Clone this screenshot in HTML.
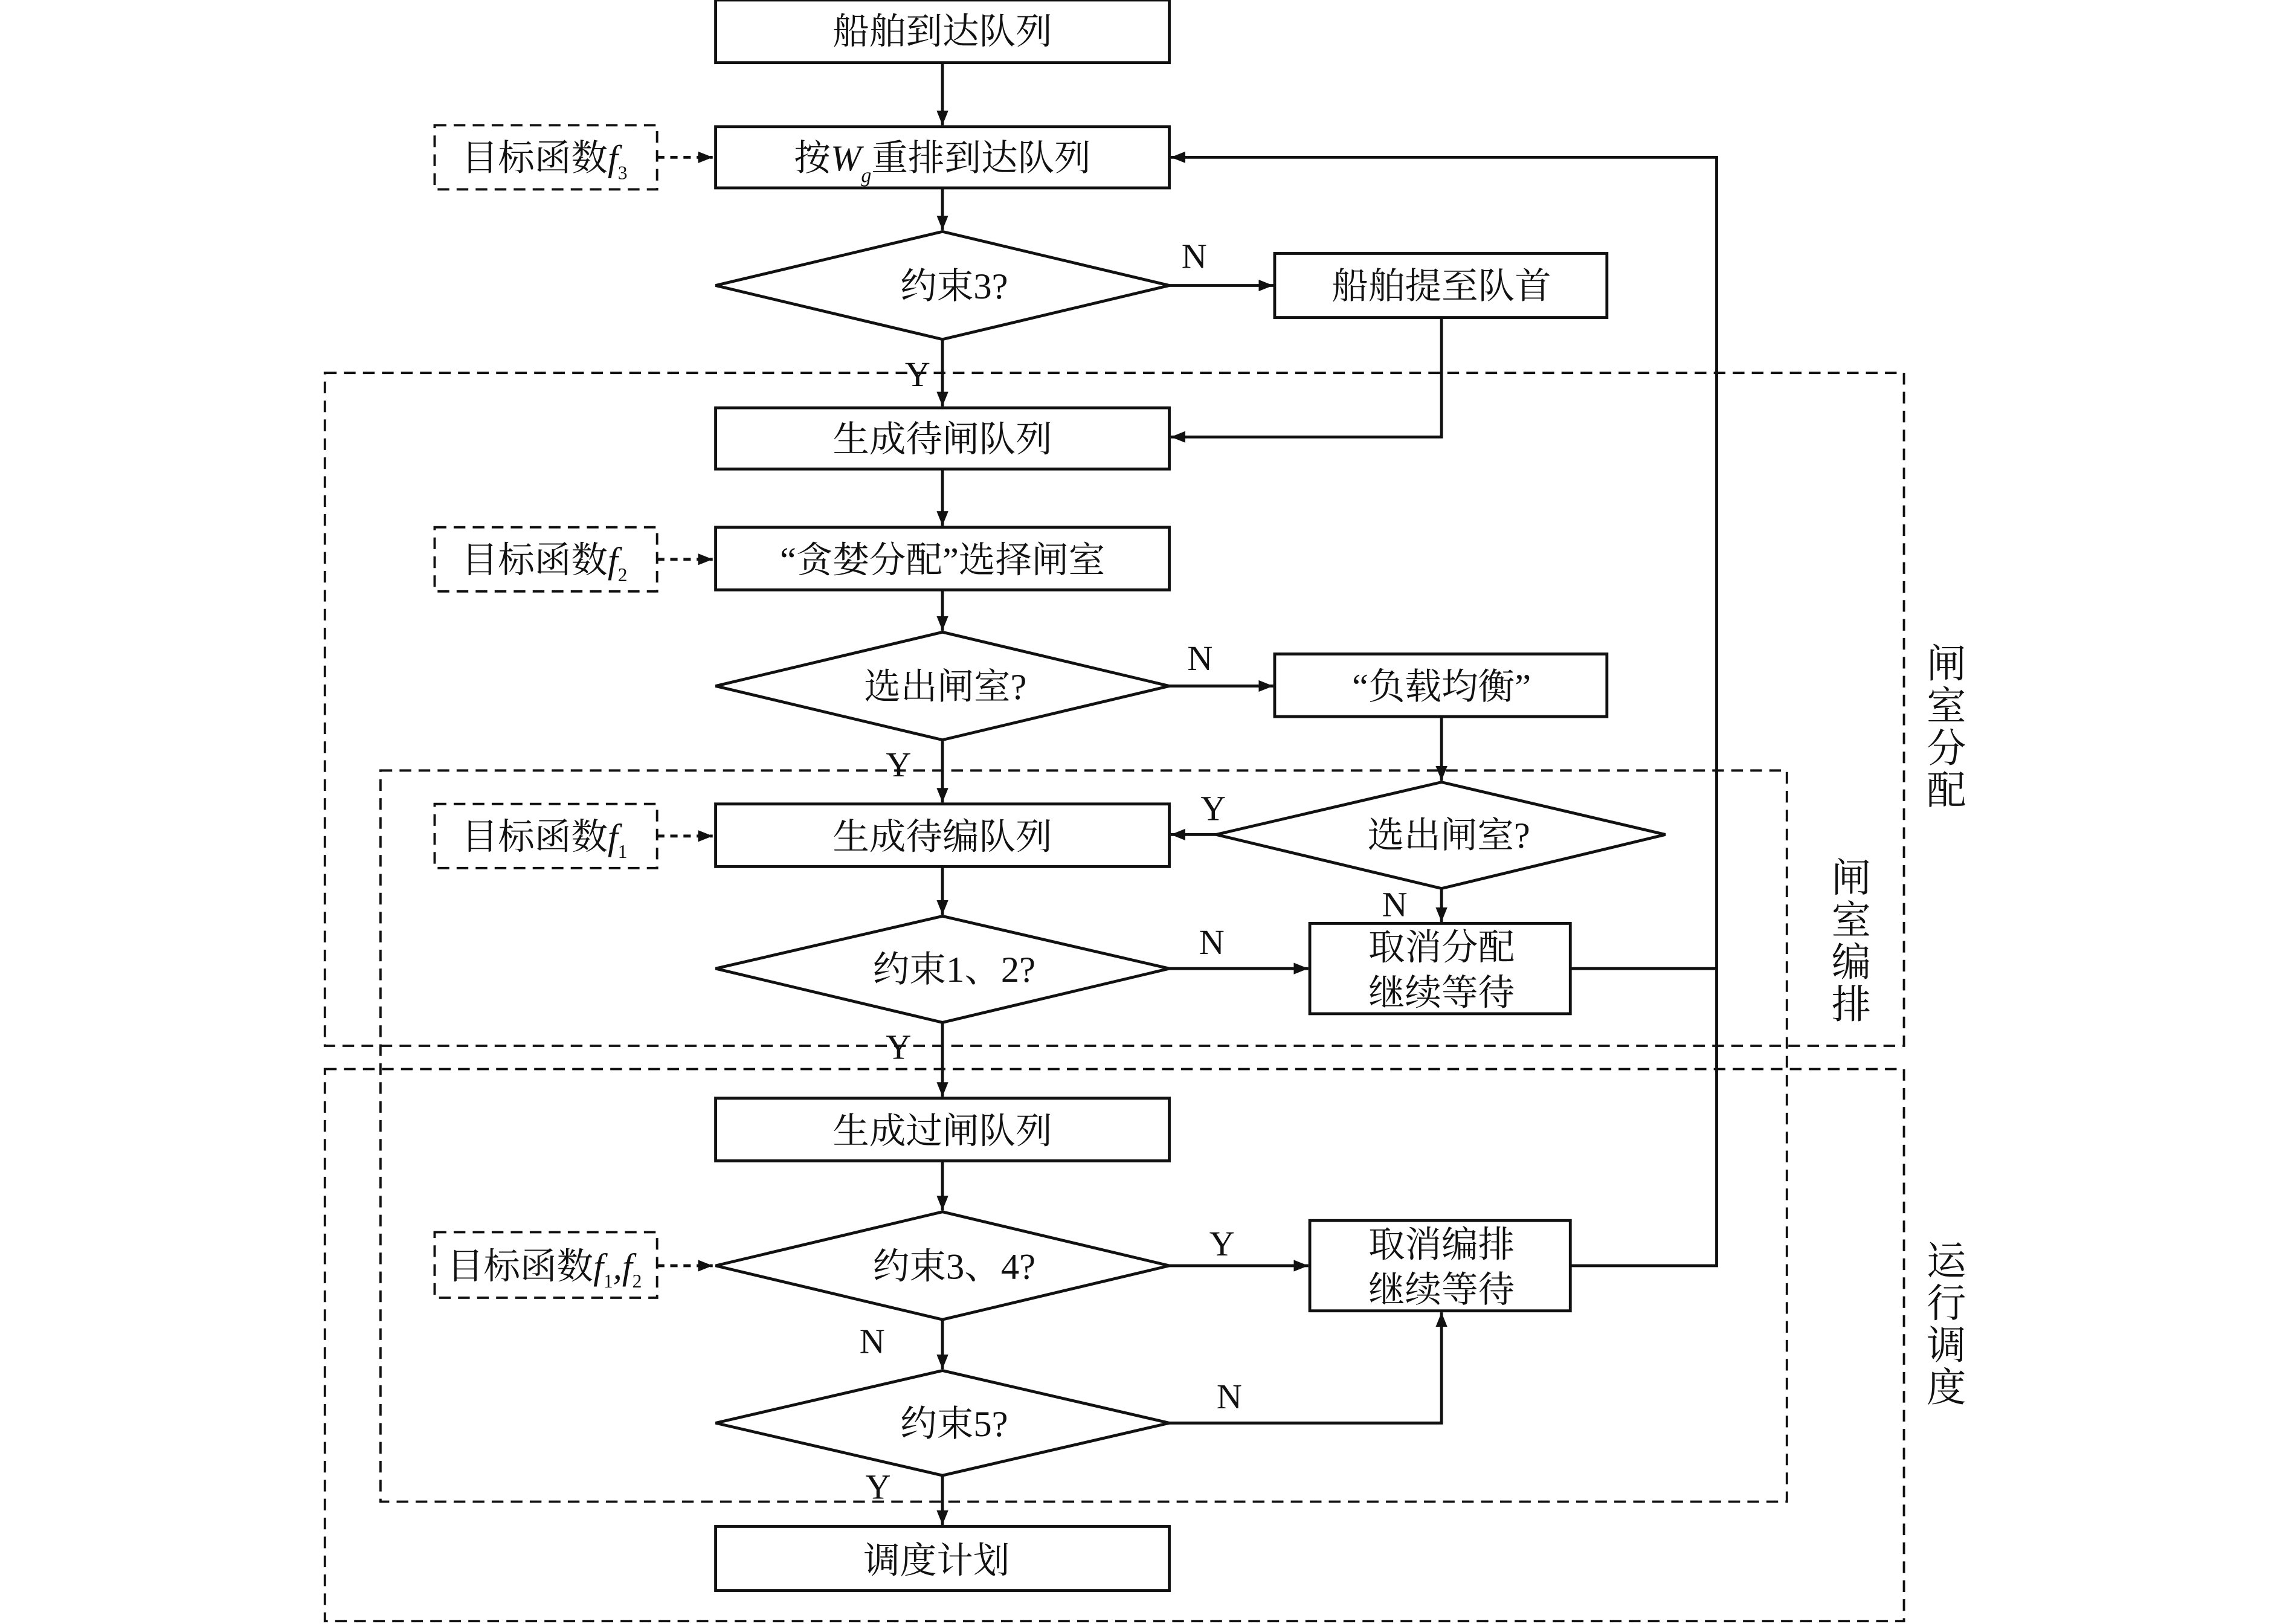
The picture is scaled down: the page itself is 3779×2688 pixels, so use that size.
<!DOCTYPE html>
<html><head><meta charset="utf-8"><style>
html,body{margin:0;padding:0;background:#fff}
svg{display:block}
text{font-family:"Liberation Serif","Noto Serif CJK SC",serif;fill:#111}
</style></head><body>
<svg width="3779" height="2688" viewBox="0 0 1560 1115" preserveAspectRatio="none" xmlns="http://www.w3.org/2000/svg">
<defs><marker id="a" markerWidth="10" markerHeight="8" refX="10" refY="4" orient="auto" markerUnits="userSpaceOnUse"><path d="M0,0L10,4L0,8z" fill="#111"/></marker></defs>
<g fill="none" stroke="#111" stroke-width="2">
<!-- dashed regions -->
<g stroke-dasharray="8,5" stroke-width="1.6">
<rect x="222" y="256" width="1079" height="462"/>
<rect x="260" y="529" width="961" height="502"/>
<rect x="222" y="734" width="1079" height="379"/>
<rect x="297" y="86" width="152" height="44"/>
<rect x="297" y="362" width="152" height="44"/>
<rect x="297" y="552" width="152" height="44"/>
<rect x="297" y="846" width="152" height="45"/>
</g>
<g stroke-dasharray="5,4">
<line x1="449" y1="108" x2="487" y2="108" marker-end="url(#a)"/>
<line x1="449" y1="384" x2="487" y2="384" marker-end="url(#a)"/>
<line x1="449" y1="574" x2="487" y2="574" marker-end="url(#a)"/>
<line x1="449" y1="869" x2="487" y2="869" marker-end="url(#a)"/>
</g>
<!-- boxes -->
<rect x="489" y="0" width="310" height="43"/>
<rect x="489" y="87" width="310" height="42"/>
<rect x="871" y="174" width="227" height="44"/>
<rect x="489" y="280" width="310" height="42"/>
<rect x="489" y="362" width="310" height="43"/>
<rect x="871" y="449" width="227" height="43"/>
<rect x="489" y="552" width="310" height="43"/>
<rect x="895" y="634" width="178" height="62"/>
<rect x="489" y="754" width="310" height="43"/>
<rect x="895" y="838" width="178" height="62"/>
<rect x="489" y="1048" width="310" height="44"/>
<!-- diamonds -->
<polygon points="489,196 644,159 799,196 644,233"/>
<polygon points="489,471 644,434 799,471 644,508"/>
<polygon points="831,573 985,537 1138,573 985,610"/>
<polygon points="489,665 644,629 799,665 644,702"/>
<polygon points="489,869 644,832 799,869 644,906"/>
<polygon points="489,977 644,941 799,977 644,1013"/>
<!-- connectors -->
<line x1="644" y1="43" x2="644" y2="86" marker-end="url(#a)"/>
<line x1="644" y1="129" x2="644" y2="158" marker-end="url(#a)"/>
<line x1="799" y1="196" x2="870" y2="196" marker-end="url(#a)"/>
<line x1="644" y1="233" x2="644" y2="279" marker-end="url(#a)"/>
<polyline points="985,218 985,300 800,300" marker-end="url(#a)"/>
<line x1="644" y1="322" x2="644" y2="361" marker-end="url(#a)"/>
<line x1="644" y1="405" x2="644" y2="433" marker-end="url(#a)"/>
<line x1="799" y1="471" x2="870" y2="471" marker-end="url(#a)"/>
<line x1="985" y1="492" x2="985" y2="536" marker-end="url(#a)"/>
<line x1="644" y1="508" x2="644" y2="551" marker-end="url(#a)"/>
<line x1="831" y1="573" x2="800" y2="573" marker-end="url(#a)"/>
<line x1="985" y1="610" x2="985" y2="633" marker-end="url(#a)"/>
<line x1="644" y1="595" x2="644" y2="628" marker-end="url(#a)"/>
<line x1="799" y1="665" x2="894" y2="665" marker-end="url(#a)"/>
<line x1="644" y1="702" x2="644" y2="753" marker-end="url(#a)"/>
<line x1="644" y1="797" x2="644" y2="831" marker-end="url(#a)"/>
<line x1="799" y1="869" x2="894" y2="869" marker-end="url(#a)"/>
<line x1="644" y1="906" x2="644" y2="940" marker-end="url(#a)"/>
<polyline points="799,977 985,977 985,901" marker-end="url(#a)"/>
<line x1="644" y1="1013" x2="644" y2="1047" marker-end="url(#a)"/>
<polyline points="1073,665 1173,665"/>
<polyline points="1073,869 1173,869 1173,108 800,108" marker-end="url(#a)"/>
</g>
<g font-size="25" text-anchor="middle">
<text x="644" y="30">船舶到达队列</text>
<text x="644" y="117">按<tspan font-style="italic">W</tspan><tspan font-style="italic" font-size="14" dy="8">g</tspan><tspan dy="-8">重排到达队列</tspan></text>
<text x="652" y="205">约束3?</text>
<text x="985" y="205">船舶提至队首</text>
<text x="644" y="310">生成待闸队列</text>
<text x="644" y="393">“贪婪分配”选择闸室</text>
<text x="646" y="480">选出闸室?</text>
<text x="985" y="480">“负载均衡”</text>
<text x="644" y="583">生成待编队列</text>
<text x="990" y="582">选出闸室?</text>
<text x="652" y="674">约束1、2?</text>
<text x="985" y="659">取消分配</text>
<text x="985" y="690">继续等待</text>
<text x="644" y="785">生成过闸队列</text>
<text x="652" y="878">约束3、4?</text>
<text x="985" y="863">取消编排</text>
<text x="985" y="894">继续等待</text>
<text x="652" y="986">约束5?</text>
<text x="640" y="1080">调度计划</text>
<text x="372" y="117">目标函数<tspan font-style="italic">f</tspan><tspan font-size="13" dy="6">3</tspan></text>
<text x="372" y="393">目标函数<tspan font-style="italic">f</tspan><tspan font-size="13" dy="6">2</tspan></text>
<text x="372" y="583">目标函数<tspan font-style="italic">f</tspan><tspan font-size="13" dy="6">1</tspan></text>
<text x="372" y="878">目标函数<tspan font-style="italic">f</tspan><tspan font-size="13" dy="6">1</tspan><tspan dy="-6" font-style="italic">,f</tspan><tspan font-size="13" dy="6">2</tspan></text>
</g>
<g font-size="24" text-anchor="middle">
<text x="816" y="184">N</text><text x="627" y="265">Y</text>
<text x="820" y="460">N</text><text x="614" y="533">Y</text>
<text x="829" y="563">Y</text><text x="953" y="629">N</text>
<text x="828" y="655">N</text><text x="614" y="727">Y</text>
<text x="835" y="862">Y</text><text x="596" y="929">N</text>
<text x="840" y="967">N</text><text x="600" y="1029">Y</text>
</g>
<g font-size="27" text-anchor="middle">
<text x="1330" y="465">闸</text><text x="1330" y="494">室</text><text x="1330" y="523">分</text><text x="1330" y="552">配</text>
<text x="1265" y="612">闸</text><text x="1265" y="641">室</text><text x="1265" y="670">编</text><text x="1265" y="699">排</text>
<text x="1330" y="875">运</text><text x="1330" y="904">行</text><text x="1330" y="933">调</text><text x="1330" y="962">度</text>
</g>
</svg>
</body></html>
